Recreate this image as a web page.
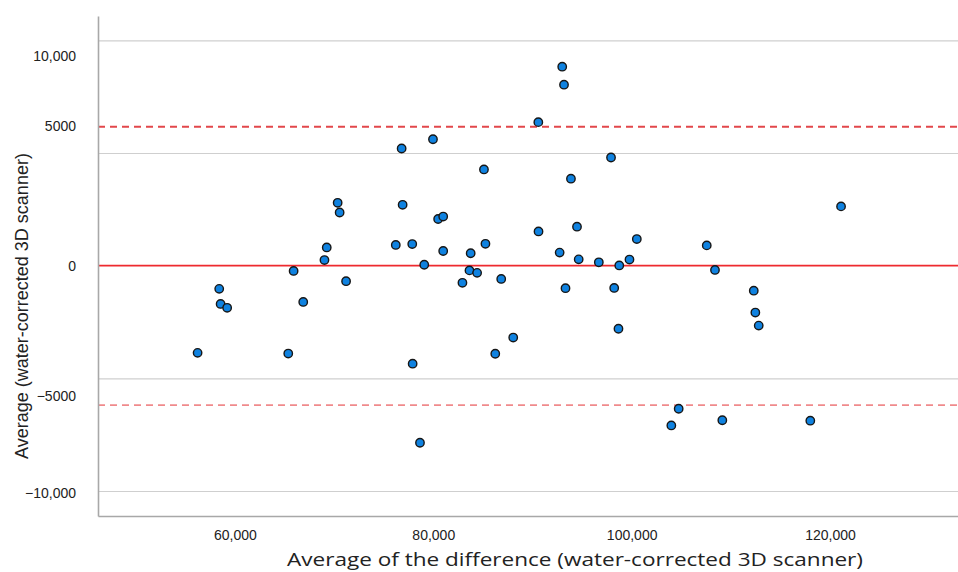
<!DOCTYPE html>
<html>
<head>
<meta charset="utf-8">
<script src="https://cdn.jsdelivr.net/npm/d3@7"></script>
<style>
  body { margin: 0; background: #fff; }
  svg { display: block; }
</style>
</head>
<body>
<div id="chart"></div>
<script>
// x = average of the difference, y = average (water-corrected 3D scanner)
const avgDifference = [
  56240, 58420, 58560, 59220, 65380, 65920, 66890, 69030, 69260, 70360,
  70560, 71210, 76220, 76810, 76910, 77880, 77920, 78660, 79090, 79970,
  80490, 81000, 81000, 82940, 83650, 83770, 84420, 85110, 85260, 86250,
  86850, 88060, 90590, 90610, 92740, 93000, 93180, 93330, 93880, 94490,
  94660, 96690, 97920, 98240, 98670, 98750, 99780, 100520, 104000, 104740,
  107570, 108400, 109140, 112310, 112470, 112810, 118010, 121110
]
const avgValue = [
  -3870, -1030, -1700, -1870, -3900, -235, -1610, 250, 810, 2790,
  2360, -690, 920, 5200, 2700, 960, -4350, -7860, 40, 5610,
  2070, 2180, 650, -760, -210, 550, -320, 4270, 970, -3910,
  -590, -3190, 6370, 1520, 580, 8830, 8030, -1000, 3860, 1730,
  280, 150, 4800, -990, -2800, 10, 270, 1180, -7090, -6350,
  900, -190, -6860, -1110, -2080, -2660, -6880, 2630
]

const xTicks = [60000, 80000, 100000, 120000]
const yTicks = [-10000, -5000, 0, 5000, 10000]
const meanLine = 0
const upperLimit = 6170
const lowerLimit = -6190

const margin = { top: 16, left: 98, right: 0, bottom: 56 }
const width = 958 - margin.left - margin.right
const height = 572 - margin.top - margin.bottom

const labelFont = '"Liberation Sans", Arial, sans-serif'

const frame = d3
  .select('#chart')
  .append('svg')
  .attr('width', width + margin.left + margin.right)
  .attr('height', height + margin.top + margin.bottom)

const svg = frame
  .append('g')
  .attr('transform', `translate(${margin.left},${margin.top})`)

const xPositionScale = d3
  .scaleLinear()
  .domain([46200, 132900])
  .range([0, width])

const yPositionScale = d3
  .scaleLinear()
  .domain([-11110, 11080])
  .range([height, 0])

// SPSS style: no comma below 10,000
const fmt = v => (Math.abs(v) >= 10000 ? d3.format(',')(v) : d3.format('d')(v))

// gridlines (the zero one is covered by the mean line)
svg
  .append('g')
  .attr('class', 'grid')
  .call(
    d3
      .axisLeft(yPositionScale)
      .tickValues(yTicks.filter(d => d !== meanLine))
      .tickSize(-width)
      .tickFormat('')
  )
  .call(g => g.select('.domain').remove())
  .call(g => g.selectAll('line').attr('stroke', '#cfcfcf').attr('stroke-width', 1.2))

// limits of agreement + mean
svg
  .append('line')
  .attr('x1', 0)
  .attr('x2', width)
  .attr('y1', yPositionScale(upperLimit))
  .attr('y2', yPositionScale(upperLimit))
  .attr('stroke', '#e2474b')
  .attr('stroke-width', 2)
  .attr('stroke-dasharray', '7,5')

svg
  .append('line')
  .attr('x1', 0)
  .attr('x2', width)
  .attr('y1', yPositionScale(lowerLimit))
  .attr('y2', yPositionScale(lowerLimit))
  .attr('stroke', '#f08a8c')
  .attr('stroke-width', 1.6)
  .attr('stroke-dasharray', '7,5')

svg
  .append('line')
  .attr('x1', 0)
  .attr('x2', width)
  .attr('y1', yPositionScale(meanLine))
  .attr('y2', yPositionScale(meanLine))
  .attr('stroke', '#ee2a2f')
  .attr('stroke-width', 1.8)

// y axis
// the labels in the original sit a little off their gridlines
const labelShift = { 10000: 16, 5000: -27, 0: 0, '-5000': 18, '-10000': 2 }
svg
  .append('g')
  .call(
    d3
      .axisLeft(yPositionScale)
      .tickValues(yTicks)
      .tickSize(0)
      .tickPadding(22)
      .tickFormat(fmt)
  )
  .call(g => g.select('.domain').attr('stroke', '#a8a8a8').attr('stroke-width', 1.6))
  .call(g =>
    g
      .selectAll('text')
      .style('font-family', labelFont)
      .style('font-size', '14px')
      .attr('fill', '#222')
      .attr('transform', d => `translate(0,${labelShift[d]})`)
  )

// x axis
svg
  .append('g')
  .attr('transform', `translate(0,${height})`)
  .call(
    d3
      .axisBottom(xPositionScale)
      .tickValues(xTicks)
      .tickSize(0)
      .tickPadding(14)
      .tickFormat(d3.format(','))
  )
  .call(g => g.select('.domain').attr('stroke', '#a8a8a8').attr('stroke-width', 1.6))
  .call(g =>
    g
      .selectAll('text')
      .style('font-family', labelFont)
      .style('font-size', '14px')
      .attr('fill', '#222')
  )

// points
svg
  .selectAll('.pt')
  .data(avgDifference)
  .enter()
  .append('circle')
  .attr('class', 'pt')
  .attr('cx', d => xPositionScale(d))
  .attr('cy', (d, i) => yPositionScale(avgValue[i]))
  .attr('r', 4.2)
  .attr('fill', '#0f82e0')
  .attr('stroke', '#161616')
  .attr('stroke-width', 1.4)

// axis titles
frame
  .append('text')
  .attr('transform', 'translate(28,306) rotate(-90)')
  .attr('text-anchor', 'middle')
  .style('font-family', labelFont)
  .style('font-size', '18px')
  .attr('fill', '#222')
  .text('Average (water-corrected 3D scanner)')

frame
  .append('text')
  .attr('x', 575)
  .attr('y', 566)
  .attr('text-anchor', 'middle')
  .style('font-family', '"Open Sans", sans-serif')
  .style('font-size', '19px')
  .attr('textLength', 576)
  .attr('lengthAdjust', 'spacingAndGlyphs')
  .attr('fill', '#222')
  .text('Average of the difference (water-corrected 3D scanner)')
</script>
</body>
</html>
